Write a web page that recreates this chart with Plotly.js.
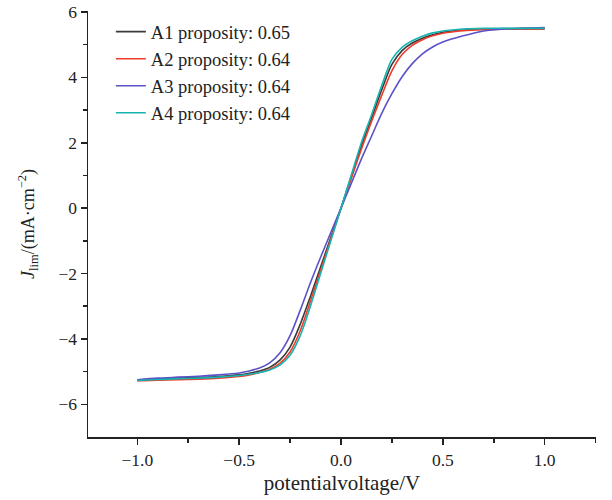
<!DOCTYPE html>
<html>
<head>
<meta charset="utf-8">
<script src="https://cdn.plot.ly/plotly-3.0.1.min.js"></script>
<style>html,body{margin:0;padding:0;background:#fff;}#chart{width:612px;height:500px;}</style>
</head>
<body>
<div id="chart"></div>
<script>
var potential = [-1.0, -0.9, -0.8, -0.7, -0.6, -0.5, -0.45, -0.4, -0.35, -0.3, -0.25, -0.2, -0.15, -0.1, -0.05, 0.0, 0.05, 0.1, 0.15, 0.2, 0.25, 0.3, 0.35, 0.4, 0.45, 0.5, 0.6, 0.7, 0.8, 0.9, 1.0];

var A1 = [-5.27, -5.22, -5.2, -5.18, -5.15, -5.1, -5.05, -4.98, -4.87, -4.65, -4.25, -3.55, -2.7, -1.8, -0.9, 0.0, 0.95, 1.9, 2.75, 3.62, 4.4, 4.82, 5.05, 5.2, 5.3, 5.38, 5.45, 5.48, 5.49, 5.5, 5.5];
var A2 = [-5.28, -5.26, -5.25, -5.23, -5.2, -5.15, -5.1, -5.03, -4.93, -4.75, -4.4, -3.75, -2.85, -1.9, -0.95, 0.0, 0.9, 1.8, 2.65, 3.45, 4.2, 4.7, 4.98, 5.15, 5.27, 5.35, 5.43, 5.46, 5.47, 5.47, 5.47];
var A3 = [-5.25, -5.2, -5.17, -5.14, -5.1, -5.04, -4.98, -4.89, -4.73, -4.43, -3.9, -3.12, -2.28, -1.5, -0.75, 0.0, 0.75, 1.5, 2.2, 2.9, 3.5, 4.02, 4.42, 4.72, 4.93, 5.08, 5.27, 5.42, 5.48, 5.5, 5.52];
var A4 = [-5.27, -5.24, -5.22, -5.2, -5.17, -5.12, -5.08, -5.03, -4.95, -4.8, -4.5, -3.9, -3.0, -2.0, -1.0, 0.0, 1.0, 2.0, 2.85, 3.75, 4.55, 4.92, 5.12, 5.26, 5.36, 5.42, 5.48, 5.5, 5.5, 5.5, 5.5];

var names = ["A1 proposity: 0.65", "A2 proposity: 0.64", "A3 proposity: 0.64", "A4 proposity: 0.64"];
var colors = ["#3a3a3a", "#ee3b2b", "#5b52c6", "#17b3b0"];
var series = [A1, A2, A3, A4];

var traces = series.map(function (ys, i) {
  return {
    x: potential, y: ys, type: "scatter", mode: "lines", name: names[i],
    line: {color: colors[i], width: 1.6, shape: "spline", smoothing: 0.8}
  };
});

var fam = "Liberation Serif, Times New Roman, serif";
var tickFont = {family: fam, size: 17.5, color: "#222"};
var legFont = {family: fam, size: 18.5, color: "#222"};
var xTitleFont = {family: fam, size: 21, color: "#222"};
var yTitleFont = {family: fam, size: 18, color: "#222"};

var layout = {
  width: 612, height: 500,
  margin: {l: 88, r: 16, t: 11, b: 63},
  paper_bgcolor: "#fff", plot_bgcolor: "#fff",
  font: tickFont,
  showlegend: true,
  legend: {x: 0.045, y: 0.995, xanchor: "left", yanchor: "top", bgcolor: "rgba(0,0,0,0)", borderwidth: 0, font: legFont, tracegroupgap: 0},
  xaxis: {
    range: [-1.242, 1.252], showgrid: false, zeroline: false,
    showline: true, linecolor: "#222", linewidth: 1.5, mirror: false,
    ticks: "outside", ticklen: 6, tickwidth: 1.5, tickcolor: "#222",
    tickvals: [-1.0, -0.5, 0.0, 0.5, 1.0], ticktext: ["\u22121.0", "\u22120.5", "0.0", "0.5", "1.0"],
    minor: {tickvals: [-0.75, -0.25, 0.25, 0.75, 1.25], ticks: "outside", ticklen: 4, tickwidth: 1.5, tickcolor: "#222", showgrid: false},
    tickfont: tickFont,
    title: {text: "potentialvoltage/V", font: xTitleFont, standoff: 7}
  },
  yaxis: {
    range: [-7, 6.03], showgrid: false, zeroline: false,
    showline: true, linecolor: "#222", linewidth: 1.5, mirror: false,
    ticks: "outside", ticklen: 6, tickwidth: 1.5, tickcolor: "#222",
    tickvals: [-6, -4, -2, 0, 2, 4, 6], ticktext: ["\u22126", "\u22124", "\u22122", "0", "2", "4", "6"],
    minor: {tickvals: [-5, -3, -1, 1, 3, 5], ticks: "outside", ticklen: 4, tickwidth: 1.5, tickcolor: "#222", showgrid: false},
    tickfont: tickFont,
    title: {text: "<i>J</i><sub>lim</sub>/(mA\u00b7cm<sup>\u22122</sup>)", font: yTitleFont, standoff: 19}
  }
};

Plotly.newPlot("chart", traces, layout, {displayModeBar: false, staticPlot: true});
</script>
</body>
</html>
